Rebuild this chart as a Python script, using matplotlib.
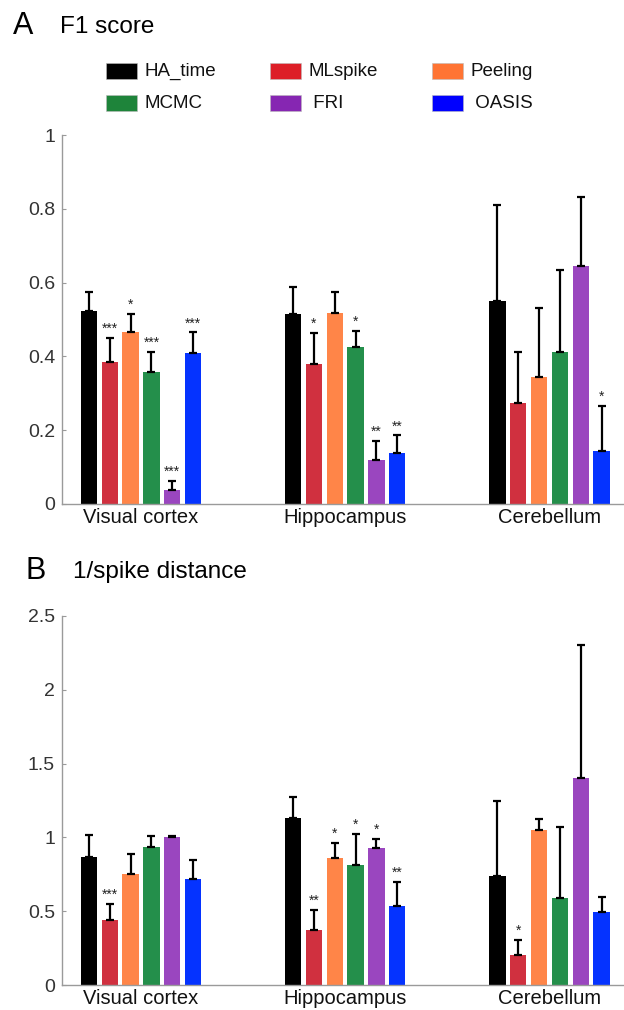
import numpy as np
import matplotlib
matplotlib.use("Agg")
import matplotlib.pyplot as plt
from matplotlib.patches import Rectangle

plt.rcParams['font.family'] = ['Liberation Sans', 'DejaVu Sans']

# data
regions = ["Visual cortex", "Hippocampus", "Cerebellum"]
methods = ["HA_time", "MLspike", "Peeling", "MCMC", "FRI", "OASIS"]
legend_labels = ["HA_time", "MLspike", "Peeling", "MCMC", " FRI", " OASIS"]
bar_colors = ["#000000", "#D0303F", "#FF8548", "#248F4B", "#9A46BF", "#0533FF"]
legend_colors = ["#000000", "#DD1E27", "#FF7433", "#1E843A", "#8626B2", "#0000FF"]

# F1 score (mean, upper error) per method, regions in order
f1_mean = [[0.524, 0.515, 0.551],
           [0.386, 0.380, 0.274],
           [0.467, 0.517, 0.345],
           [0.359, 0.426, 0.413],
           [0.039, 0.118, 0.646],
           [0.409, 0.137, 0.144]]
f1_err = [[0.051, 0.074, 0.259],
          [0.065, 0.083, 0.139],
          [0.047, 0.058, 0.187],
          [0.052, 0.044, 0.221],
          [0.023, 0.052, 0.185],
          [0.056, 0.049, 0.122]]
f1_stars = [["", "", ""],
            ["***", "*", ""],
            ["*", "", ""],
            ["***", "*", ""],
            ["***", "**", ""],
            ["***", "**", "*"]]

# 1/spike distance
sd_mean = [[0.871, 1.129, 0.740],
           [0.444, 0.372, 0.206],
           [0.756, 0.862, 1.052],
           [0.937, 0.812, 0.590],
           [1.004, 0.931, 1.402],
           [0.716, 0.536, 0.498]]
sd_err = [[0.143, 0.145, 0.505],
          [0.108, 0.137, 0.099],
          [0.131, 0.102, 0.074],
          [0.074, 0.213, 0.478],
          [0.006, 0.060, 0.902],
          [0.132, 0.162, 0.096]]
sd_stars = [["", "", ""],
            ["***", "**", "*"],
            ["", "*", ""],
            ["", "*", ""],
            ["", "*", ""],
            ["", "**", ""]]

W, H = 624, 1010
fig = plt.figure(figsize=(W / 100, H / 100), dpi=100)

step = 0.102
width = 0.08
group_x = np.arange(1, len(regions) + 1)


def draw_panel(ax, means, errs, stars, ymax, yticks, yticklabels):
    for i, m in enumerate(methods):
        x = group_x + (i - 2.5) * step
        ax.bar(x, means[i], width=width, color=bar_colors[i], edgecolor="none", zorder=2)
        ax.errorbar(x, means[i], yerr=[np.zeros(len(regions)), errs[i]], fmt="none",
                    ecolor="black", elinewidth=1.6, capsize=2.6, capthick=1.6, zorder=3)
        for j in range(len(regions)):
            if stars[i][j]:
                ax.annotate(stars[i][j], (x[j], means[i][j] + errs[i][j]),
                            xytext=(0, 1.5), textcoords="offset points",
                            ha="center", va="bottom", fontsize=10, color="#222222")
    ax.set_xlim(0.613, 3.365)
    ax.set_ylim(0, ymax)
    ax.set_yticks(yticks)
    ax.set_yticklabels(yticklabels)
    ax.set_xticks(group_x)
    ax.set_xticklabels(regions)
    for s in ["top", "right"]:
        ax.spines[s].set_visible(False)
    for s in ["left", "bottom"]:
        ax.spines[s].set_color("#9A9A9A")
        ax.spines[s].set_linewidth(1.0)
    ax.tick_params(axis="y", direction="in", length=3, width=0.8, color="#9A9A9A",
                   labelsize=14, labelcolor="#333333", pad=5)
    ax.tick_params(axis="x", length=0, labelsize=14.5, labelcolor="#111111", pad=3)


axA = fig.add_axes([62 / W, 1 - 504 / H, (W - 62) / W, 369 / H])
draw_panel(axA, f1_mean, f1_err, f1_stars, 1.0,
           [0, 0.2, 0.4, 0.6, 0.8, 1.0], ["0", "0.2", "0.4", "0.6", "0.8", "1"])

axB = fig.add_axes([62 / W, 1 - 985.3 / H, (W - 62) / W, 369.6 / H])
draw_panel(axB, sd_mean, sd_err, sd_stars, 2.5,
           [0, 0.5, 1.0, 1.5, 2.0, 2.5], ["0", "0.5", "1", "1.5", "2", "2.5"])

# panel titles
fig.text(13 / W, 1 - 34 / H, "A", fontsize=22, ha="left", va="baseline")
fig.text(60 / W, 1 - 33 / H, "F1 score", fontsize=17.5, ha="left", va="baseline")
fig.text(25 / W, 1 - 579 / H, "B", fontsize=22, ha="left", va="baseline")
fig.text(73 / W, 1 - 578 / H, "1/spike distance", fontsize=17.5, ha="left", va="baseline")

# legend drawn by hand, 3 columns x 2 rows
col_x = [106, 270, 432]
row_y = [71, 103]
for k, lab in enumerate(legend_labels):
    r, c = k // 3, k % 3
    px, py = col_x[c], row_y[r]
    fig.patches.append(Rectangle((px / W, 1 - (py + 8) / H), 31 / W, 16 / H,
                                 transform=fig.transFigure, facecolor=legend_colors[k],
                                 edgecolor="#BBBBBB", linewidth=0.4))
    fig.text((px + 38) / W, 1 - py / H, lab, fontsize=13.5, ha="left", va="center",
             color="#111111")

fig.savefig("out.png", dpi=100)
